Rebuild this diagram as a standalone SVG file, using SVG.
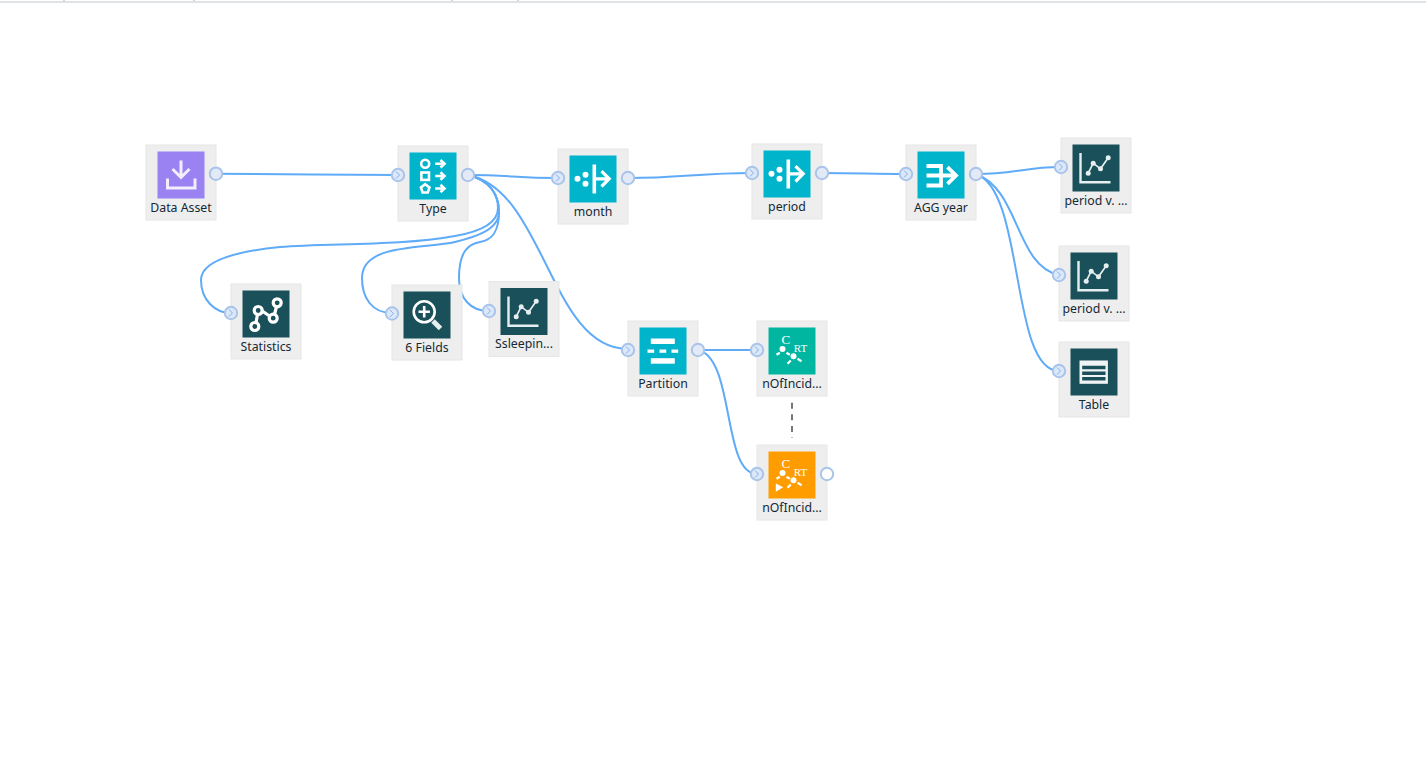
<svg xmlns="http://www.w3.org/2000/svg" width="1426" height="762" viewBox="0 0 1426 762">
<style>
.box{fill:#eeeeee;stroke:#e6e6e6;stroke-width:1}
.lbl{font-family:"Noto Sans","Open Sans",sans-serif;font-size:12.3px;fill:#152935;text-anchor:middle}
.conn path{fill:none;stroke:#5fabf8;stroke-width:2}
.in{fill:#dce7f7;stroke:#a9c4ea;stroke-width:2}
.out{fill:#e2e9f7;stroke:#a9c4ea;stroke-width:2}
.chev{fill:none;stroke:#7fb2f0;stroke-width:1}
.w{fill:none;stroke:#fff;stroke-width:2.6}
.w3{fill:none;stroke:#fff;stroke-width:3.2}
.w4{fill:none;stroke:#fff;stroke-width:3.8}
.f{fill:#fff;stroke:none}
.crt{font-family:"Liberation Serif",serif;fill:#fff;text-anchor:middle}
</style>
<defs>
<rect id="bx" class="box" x="0.5" y="0.5" width="70" height="75"/>
<g id="port-in"><circle r="6.2" class="in"/><path class="chev" d="M-2,-3.5L1.5,0L-2,3.5"/></g>
<g id="ico-chart"><rect width="47" height="47" fill="#19505a"/><path fill="none" stroke="#e6eeef" stroke-width="2.4" d="M8,8.5V37.7H38"/><path fill="none" stroke="#e6eeef" stroke-width="1.7" d="M15.7,28.7L20.7,18.7L28,24.3L35.7,13.3"/><g fill="#e6eeef"><circle cx="15.7" cy="28.7" r="2.5"/><circle cx="20.7" cy="18.7" r="2.5"/><circle cx="28" cy="24.3" r="2.5"/><circle cx="35.7" cy="13.3" r="2.5"/></g></g>
<g id="ico-filter"><rect width="47" height="47" fill="#00b4cb"/><g class="f"><circle cx="8" cy="23.3" r="3"/><circle cx="16" cy="19.3" r="3"/><circle cx="16" cy="28.3" r="3"/><rect x="23" y="9" width="3.6" height="29"/></g><path class="w3" d="M25,23.3H39M32,15.7L39.7,23.3L32,31"/></g>
<g id="ico-crt"><text class="crt" x="17.3" y="16.5" font-size="13">C</text><text class="crt" x="32" y="24" font-size="11">RT</text><g class="f"><circle cx="14" cy="21.5" r="3"/><circle cx="25" cy="28.7" r="3"/></g><path fill="none" stroke="#fff" stroke-width="2.2" d="M8,27.3L11.3,25.3M18,25.3L21.3,27.3M19,36.3L22.3,33M29,31.3L33,33.7"/></g>
</defs>
<rect width="1426" height="762" fill="#fff"/>
<rect x="0" y="1" width="1426" height="2" fill="#dfe3e6"/>
<path d="M64,0V1M194,0V1M452,0V1M518,0V1" stroke="#d4d4d4" stroke-width="2"/>
<g id="connectors" class="conn">
<path d="M216,173.7C300,174 320,175 398,175"/>
<path d="M468,175C510,175 515,178 558,178"/>
<path d="M468,175C490,180 498,195 498,208C498,224 478,232 455,236C400,246 330,243 280,247C230,252 201,262 201,280C201,300 215,313 231,313"/>
<path d="M468,175C490,180 499,195 499,212C499,230 475,237 455,242C425,249 362,243 362,278C362,298 372,313 392,313"/>
<path d="M468,175C490,180 499,195 499,212C499,232 492,240 480,242C468,244 459,252 459,278C459,298 470,311 489,311"/>
<path d="M468,175C545,190 550,349 628,349"/>
<path d="M628,178C680,178 700,173 752,173"/>
<path d="M822,173C860,173 870,174 906,174"/>
<path d="M976,174C1015,174 1025,167 1061,167"/>
<path d="M976,174C1020,190 1015,265 1059,275"/>
<path d="M976,174C1025,190 1010,371 1059,371"/>
<path d="M698,350H757"/>
<path d="M698,350C735,358 722,474 757,474"/>
</g>
<path id="link-dashed" d="M792,402.7V438" stroke="#777" stroke-width="2" stroke-dasharray="6 5.6" fill="none"/>

<g id="node-data-asset" transform="translate(145.5,144.5)"><use href="#bx"/><g transform="translate(12,7)"><rect width="47" height="47" fill="#9b82f3"/><path fill="none" stroke="#f2eefc" stroke-width="3" d="M23.5,9V25M15,17.5L23.5,26L32,17.5M10,27V36.5H37.5V27"/></g><text class="lbl" x="35.5" y="67">Data Asset</text><circle cx="70.5" cy="29.2" r="6.2" class="out"/></g>

<g id="node-type" transform="translate(397.5,145.5)"><use href="#bx"/><g transform="translate(12,7)"><rect width="47" height="47" fill="#00b4cb"/><circle class="w" cx="15.7" cy="11.3" r="4"/><rect class="w" x="11.9" y="20" width="7.6" height="7.4"/><path class="w" d="M15.7,31.7L20,35L18.3,40H13.1L11.4,35Z"/><path class="w" d="M25.7,11.3H35M31,7.5L35,11.3L31,15M25.7,23.5H35M31,19.7L35,23.5L31,27.3M25.7,36H35M31,32.2L35,36L31,39.7"/></g><text class="lbl" x="35.5" y="67">Type</text><use href="#port-in" x="0.5" y="29.5"/><circle cx="70.5" cy="29.5" r="6.2" class="out"/></g>

<g id="node-month" transform="translate(557.5,148.5)"><use href="#bx"/><use href="#ico-filter" x="12" y="7"/><text class="lbl" x="35.5" y="67">month</text><use href="#port-in" x="0.5" y="29.5"/><circle cx="70.5" cy="29.5" r="6.2" class="out"/></g>

<g id="node-period" transform="translate(751.5,143.5)"><use href="#bx"/><use href="#ico-filter" x="12" y="7"/><text class="lbl" x="35.5" y="67">period</text><use href="#port-in" x="0.5" y="29.5"/><circle cx="70.5" cy="29.5" r="6.2" class="out"/></g>

<g id="node-agg-year" transform="translate(905.5,144.5)"><use href="#bx"/><g transform="translate(12,7)"><rect width="47" height="47" fill="#00b4cb"/><path class="w4" d="M9,14.5H23.5V34H9M9,24H38M30,15.7L38.5,24L30,32.3"/></g><text class="lbl" x="35.5" y="67">AGG year</text><use href="#port-in" x="0.5" y="29.5"/><circle cx="70.5" cy="29.5" r="6.2" class="out"/></g>

<g id="node-statistics" transform="translate(230.5,283.5)"><use href="#bx"/><g transform="translate(12,7)"><rect width="47" height="47" fill="#19505a"/><path class="w3" d="M13.5,32L15,24M19,20L27,25.5M32,24L34,16"/><circle class="w3" cx="12.3" cy="36" r="4"/><circle class="w3" cx="15.7" cy="20" r="4"/><circle class="w3" cx="30.7" cy="27.7" r="4"/><circle class="w3" cx="34.7" cy="12.3" r="4"/></g><text class="lbl" x="35.5" y="67">Statistics</text><use href="#port-in" x="0.5" y="29.5"/></g>

<g id="node-6-fields" transform="translate(391.5,284.5)"><use href="#bx"/><g transform="translate(12,7)"><rect width="47" height="47" fill="#19505a"/><circle class="w" cx="20.7" cy="20.3" r="10.5"/><path class="w" d="M15,20.3H26.4M20.7,14.6V26"/><path stroke="#e6eeef" stroke-width="5" d="M29.5,29.5L37,37"/></g><text class="lbl" x="35.5" y="67">6 Fields</text><use href="#port-in" x="0.5" y="29"/></g>

<g id="node-ssleeping" transform="translate(488.5,281)"><use href="#bx"/><use href="#ico-chart" x="12" y="7"/><text class="lbl" x="35.5" y="67">Ssleepin...</text><use href="#port-in" x="0.5" y="30"/></g>

<g id="node-partition" transform="translate(627.5,320.5)"><use href="#bx"/><g transform="translate(12,7)"><rect width="47" height="47" fill="#00b4cb"/><g class="f"><rect x="11.3" y="11" width="24" height="5.5"/><rect x="8" y="22" width="6.7" height="3.3"/><rect x="20" y="22" width="6.7" height="3.3"/><rect x="32" y="22" width="6.7" height="3.3"/><rect x="11.3" y="30.7" width="24" height="5.5"/></g></g><text class="lbl" x="35.5" y="67">Partition</text><use href="#port-in" x="0.5" y="29.5"/><circle cx="70.5" cy="29.5" r="6.2" class="out"/></g>

<g id="node-nofincid-1" transform="translate(756.5,320.5)"><use href="#bx"/><g transform="translate(12,7)"><rect width="47" height="47" fill="#00b6a0"/><use href="#ico-crt"/></g><text class="lbl" x="35.5" y="67">nOfIncid...</text><use href="#port-in" x="0.5" y="29.5"/></g>

<g id="node-nofincid-2" transform="translate(756.5,444.5)"><use href="#bx"/><g transform="translate(12,7)"><rect width="47" height="47" fill="#ff9d00"/><use href="#ico-crt"/><path class="f" d="M7.3,32L14.7,35.8L7.3,40.3Z"/></g><text class="lbl" x="35.5" y="67">nOfIncid...</text><use href="#port-in" x="0.5" y="29.5"/><circle cx="70.5" cy="29.5" r="6.2" fill="#fff" stroke="#a9c4ea" stroke-width="2"/></g>

<g id="node-period-v-1" transform="translate(1060.5,137.5)"><use href="#bx"/><use href="#ico-chart" x="12" y="7"/><text class="lbl" x="35.5" y="67">period v. ...</text><use href="#port-in" x="0.5" y="29.5"/></g>

<g id="node-period-v-2" transform="translate(1058.5,245.5)"><use href="#bx"/><use href="#ico-chart" x="12" y="7"/><text class="lbl" x="35.5" y="67">period v. ...</text><use href="#port-in" x="0.5" y="29.5"/></g>

<g id="node-table" transform="translate(1058.5,341.5)"><use href="#bx"/><g transform="translate(12,7)"><rect width="47" height="47" fill="#19505a"/><rect x="9" y="12" width="28.4" height="23.3" fill="#f0f4f4"/><path stroke="#19505a" stroke-width="3.5" d="M11.7,19H35M11.7,24.7H35M11.7,30.2H35"/></g><text class="lbl" x="35.5" y="67">Table</text><use href="#port-in" x="0.5" y="29.5"/></g>
</svg>
